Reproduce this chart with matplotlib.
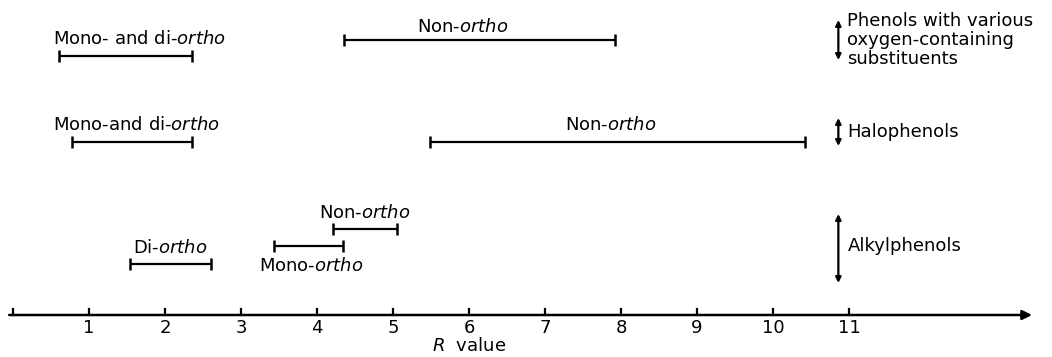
import numpy as np
import matplotlib.pyplot as plt

# R value ranges (start, end) for each group
phenol_oxy_mono_di = (0.60, 2.36)
phenol_oxy_non = (4.35, 7.92)
halo_mono_di = (0.78, 2.36)
halo_non = (5.49, 10.42)
alkyl_di = (1.54, 2.60)
alkyl_mono = (3.43, 4.34)
alkyl_non = (4.21, 5.05)

tick_values = list(range(0, 12))
tick_labels = [""] + [str(v) for v in range(1, 12)]

# === Plot ===
fig = plt.figure(figsize=(10.52, 3.57), dpi=100)
ax = fig.add_axes([0, 0, 1, 1])
ax.set_xlim(-13 / 76, 1039 / 76)
ax.set_ylim(357, 0)

ink = "black"
font = 13


def range_bar(rng, y, label=None, label_dy=-16, label_x=None):
    ax.hlines(y, rng[0], rng[1], color=ink, linewidth=1.6)
    ax.plot(rng, [y, y], linestyle="none", marker="|", markersize=8,
            markeredgewidth=1.8, color=ink)
    if label is not None:
        x = label_x if label_x is not None else (rng[0] + rng[1]) / 2
        ax.text(x, y + label_dy, label, ha="center", va="center",
                fontsize=font, color=ink)


# Phenols with oxygen-containing substituents
range_bar(phenol_oxy_mono_di, 56, r"Mono- and di-$\it{ortho}$", label_dy=-17, label_x=1.66)
range_bar(phenol_oxy_non, 40, r"Non-$\it{ortho}$", label_dy=-13, label_x=5.92)

# Halophenols
range_bar(halo_mono_di, 142, r"Mono-and di-$\it{ortho}$", label_dy=-17, label_x=1.62)
range_bar(halo_non, 142, r"Non-$\it{ortho}$", label_dy=-17, label_x=7.87)

# Alkylphenols
range_bar(alkyl_di, 264, r"Di-$\it{ortho}$", label_dy=-16)
range_bar(alkyl_mono, 246, r"Mono-$\it{ortho}$", label_dy=20, label_x=3.93)
range_bar(alkyl_non, 229, r"Non-$\it{ortho}$", label_dy=-16)

# Class brackets (double arrows) with labels
arrow_x = 10.86
classes = [
    (20, 60, "Phenols with various\noxygen-containing\nsubstituents", 40),
    (118, 146, "Halophenols", 132),
    (214, 283, "Alkylphenols", 246),
]
for y0, y1, name, ytxt in classes:
    ax.annotate("", xy=(arrow_x, y0), xytext=(arrow_x, y1),
                arrowprops=dict(arrowstyle="<|-|>", color=ink, lw=1.6,
                                mutation_scale=8, shrinkA=0, shrinkB=0))
    ax.text(arrow_x + 0.12, ytxt, name, ha="left", va="center",
            fontsize=font, color=ink, linespacing=1.05)

# Bottom axis with arrow
axis_y = 315
ax.annotate("", xy=(1032 / 76 - 13 / 76, axis_y), xytext=(-0.05, axis_y),
            arrowprops=dict(arrowstyle="-|>", color=ink, lw=1.8,
                            mutation_scale=14, shrinkA=0, shrinkB=0))
for v, lab in zip(tick_values, tick_labels):
    ax.plot([v, v], [axis_y, axis_y - 6], color=ink, linewidth=1.6)
    if lab:
        ax.text(v, axis_y + 13, lab, ha="center", va="center",
                fontsize=font, color=ink)

ax.text(6.0, 346, r"$\it{R}$  value", ha="center", va="center",
        fontsize=font, color=ink)

ax.axis("off")
fig.savefig("out.png", dpi=100)
plt.close()
